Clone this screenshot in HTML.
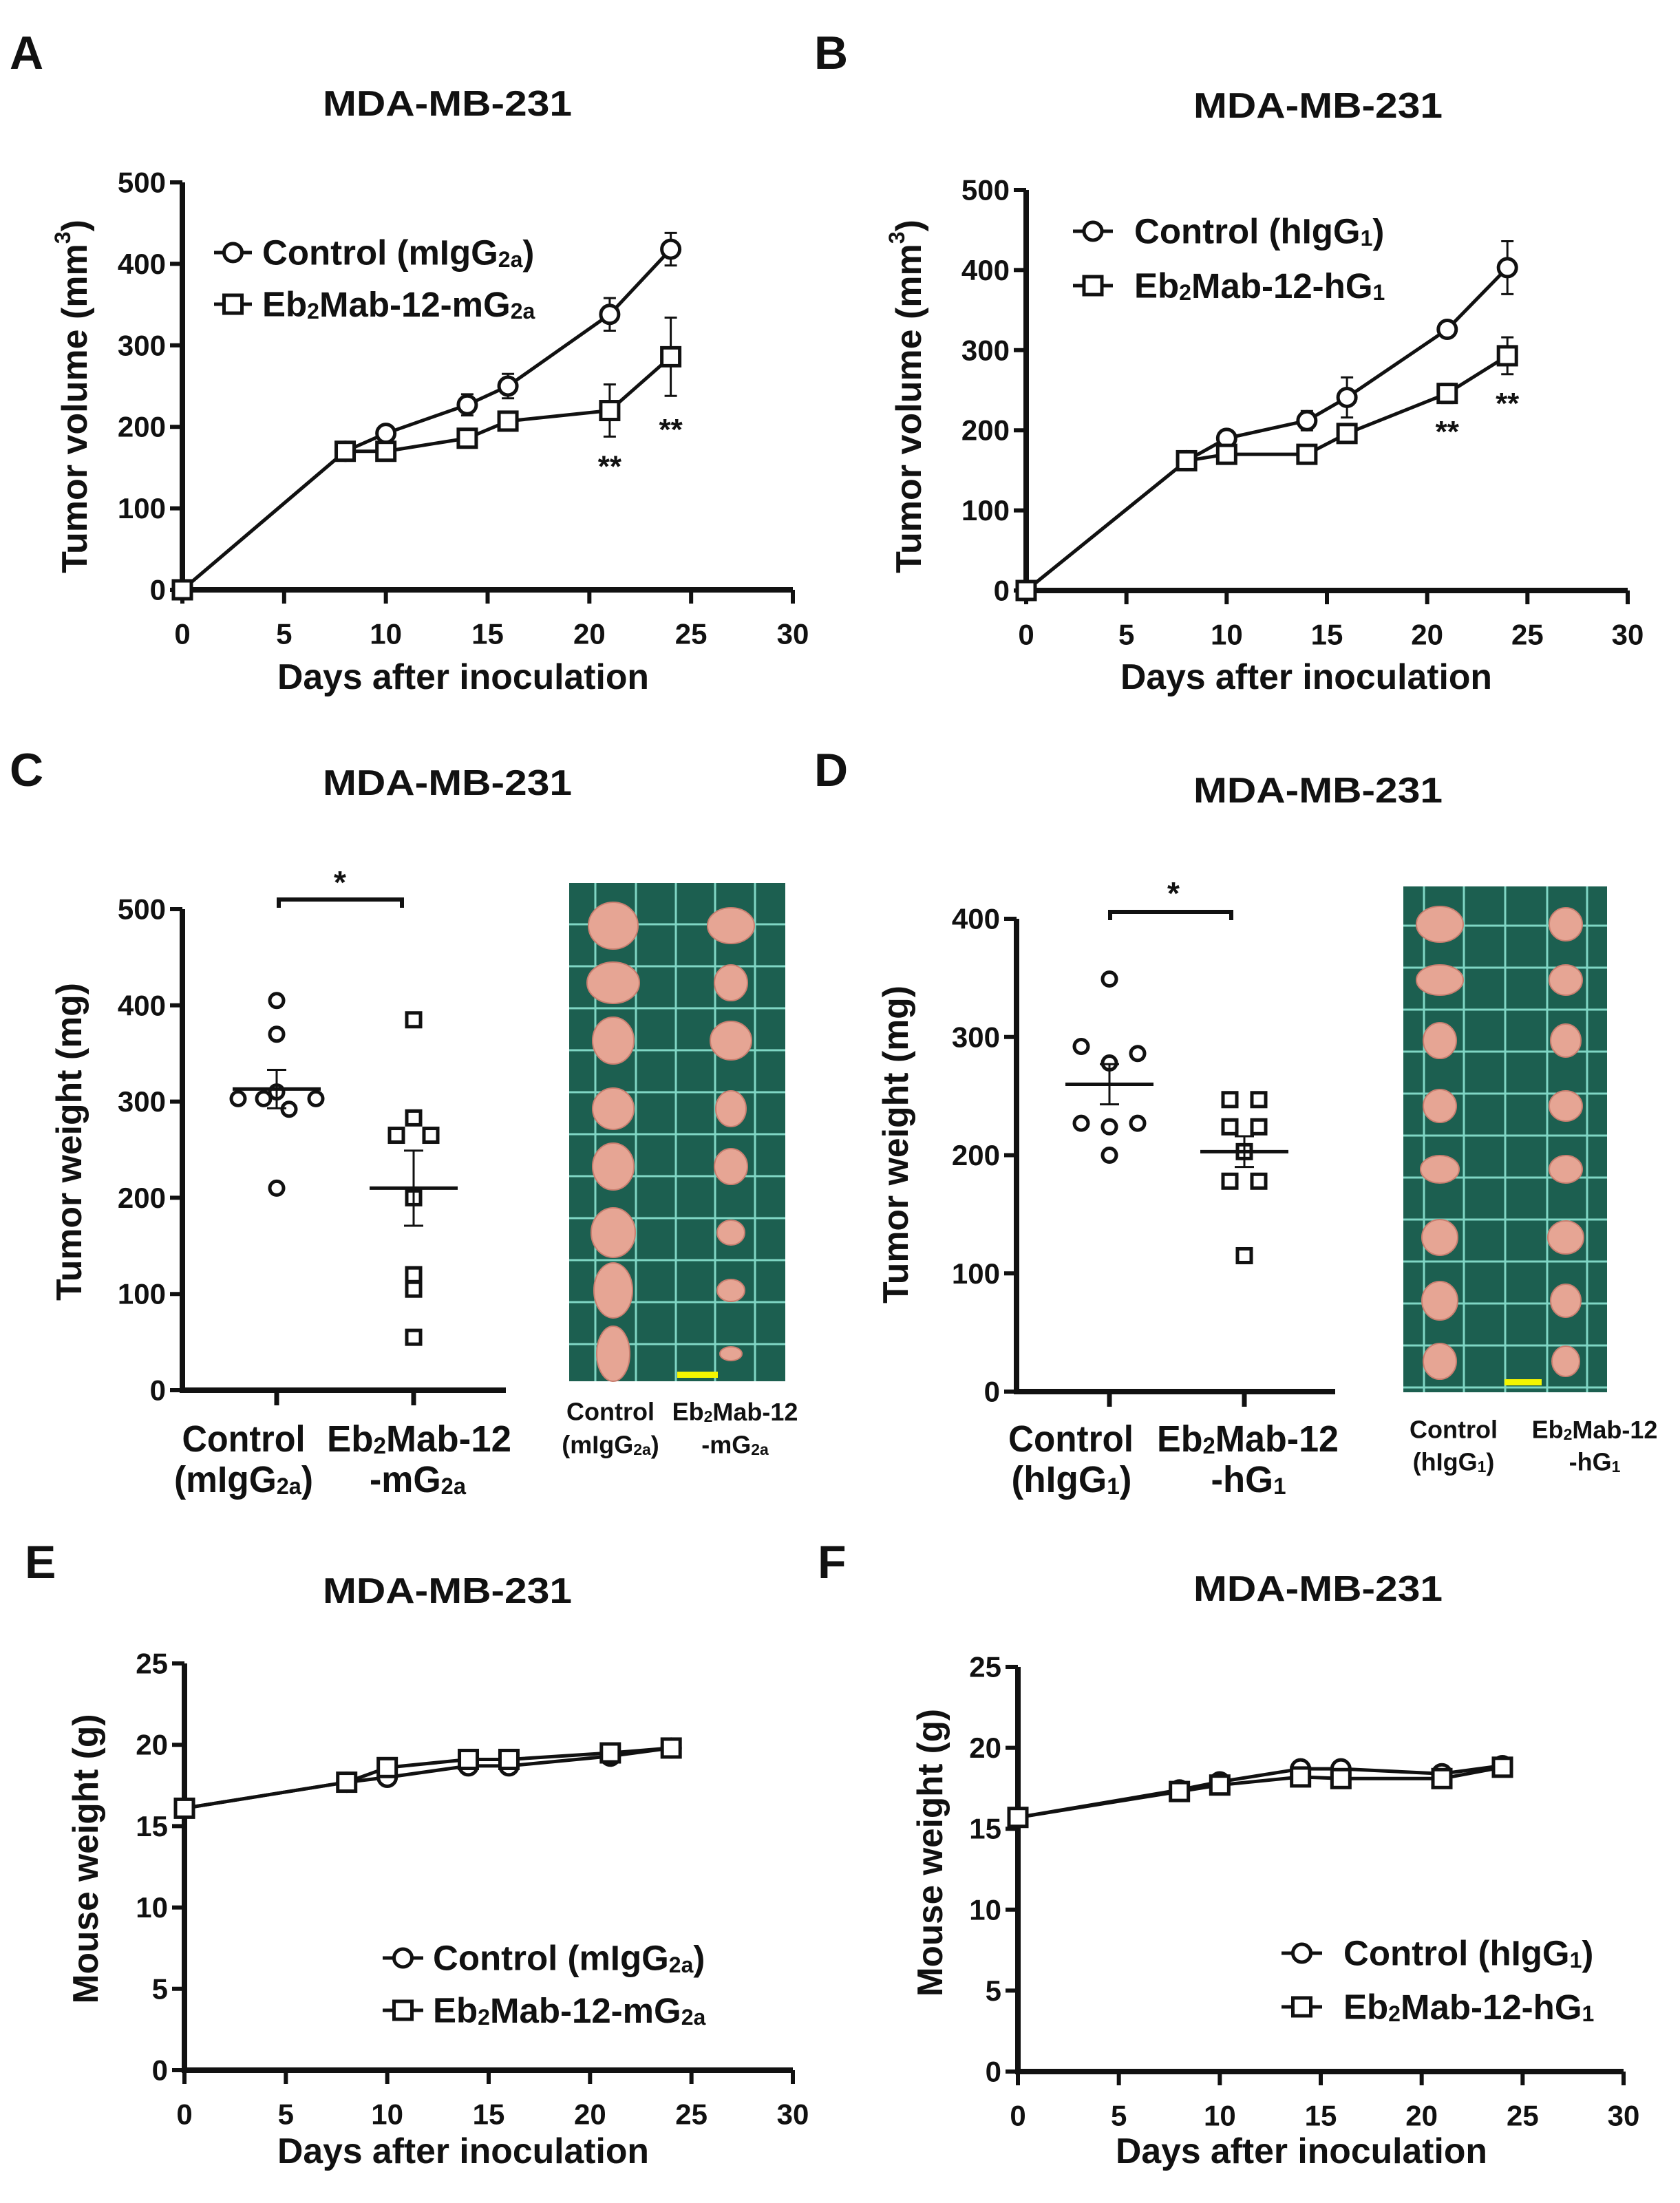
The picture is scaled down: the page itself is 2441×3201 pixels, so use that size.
<!DOCTYPE html>
<html><head><meta charset="utf-8">
<style>
html,body{margin:0;padding:0;background:#fff;}
svg{display:block;}
text{font-family:"Liberation Sans",Arial,sans-serif;font-weight:bold;fill:#111;}
</style></head>
<body>
<svg id="fig" width="2441" height="3201" viewBox="0 0 2441 3201" xmlns="http://www.w3.org/2000/svg">
<rect width="2441" height="3201" fill="#fff"/>

<!-- Panel letters -->
<text x="14" y="100" font-size="68">A</text>
<text x="1183" y="100" font-size="68">B</text>
<text x="14" y="1142" font-size="68">C</text>
<text x="1183" y="1142" font-size="68">D</text>
<text x="36" y="2293" font-size="68">E</text>
<text x="1188" y="2293" font-size="68">F</text>

<!-- Titles -->
<text x="650" y="151" font-size="52" text-anchor="middle" dominant-baseline="central" textLength="362" lengthAdjust="spacingAndGlyphs">MDA-MB-231</text>
<text x="1915" y="154" font-size="52" text-anchor="middle" dominant-baseline="central" textLength="362" lengthAdjust="spacingAndGlyphs">MDA-MB-231</text>
<text x="650" y="1138" font-size="52" text-anchor="middle" dominant-baseline="central" textLength="362" lengthAdjust="spacingAndGlyphs">MDA-MB-231</text>
<text x="1915" y="1149" font-size="52" text-anchor="middle" dominant-baseline="central" textLength="362" lengthAdjust="spacingAndGlyphs">MDA-MB-231</text>
<text x="650" y="2312" font-size="52" text-anchor="middle" dominant-baseline="central" textLength="362" lengthAdjust="spacingAndGlyphs">MDA-MB-231</text>
<text x="1915" y="2309" font-size="52" text-anchor="middle" dominant-baseline="central" textLength="362" lengthAdjust="spacingAndGlyphs">MDA-MB-231</text>

<!-- X axis titles -->
<text x="673" y="984" font-size="52" text-anchor="middle" dominant-baseline="central" textLength="540" lengthAdjust="spacingAndGlyphs">Days after inoculation</text>
<text x="1898" y="984" font-size="52" text-anchor="middle" dominant-baseline="central" textLength="540" lengthAdjust="spacingAndGlyphs">Days after inoculation</text>
<text x="673" y="3126" font-size="52" text-anchor="middle" dominant-baseline="central" textLength="540" lengthAdjust="spacingAndGlyphs">Days after inoculation</text>
<text x="1891" y="3126" font-size="52" text-anchor="middle" dominant-baseline="central" textLength="540" lengthAdjust="spacingAndGlyphs">Days after inoculation</text>

<!-- Y axis titles -->
<text transform="translate(109,576) rotate(-90)" font-size="52" text-anchor="middle" dominant-baseline="central">Tumor volume (mm<tspan font-size="32" dy="-18">3</tspan><tspan dy="18">)</tspan></text>
<text transform="translate(1321,576) rotate(-90)" font-size="52" text-anchor="middle" dominant-baseline="central">Tumor volume (mm<tspan font-size="32" dy="-18">3</tspan><tspan dy="18">)</tspan></text>
<text transform="translate(101,1659) rotate(-90)" font-size="52" text-anchor="middle" dominant-baseline="central" textLength="462" lengthAdjust="spacingAndGlyphs">Tumor weight (mg)</text>
<text transform="translate(1302,1663) rotate(-90)" font-size="52" text-anchor="middle" dominant-baseline="central" textLength="462" lengthAdjust="spacingAndGlyphs">Tumor weight (mg)</text>
<text transform="translate(125,2701) rotate(-90)" font-size="52" text-anchor="middle" dominant-baseline="central" textLength="421" lengthAdjust="spacingAndGlyphs">Mouse weight (g)</text>
<text transform="translate(1352,2692) rotate(-90)" font-size="52" text-anchor="middle" dominant-baseline="central" textLength="418" lengthAdjust="spacingAndGlyphs">Mouse weight (g)</text>

<!-- Legends text -->
<text x="381" y="367" font-size="51" dominant-baseline="central">Control (mIgG<tspan font-size="32" dy="10">2a</tspan><tspan dy="-10">)</tspan></text>
<text x="381" y="442" font-size="51" dominant-baseline="central">Eb<tspan font-size="32" dy="10">2</tspan><tspan dy="-10">Mab-12-mG</tspan><tspan font-size="32" dy="10">2a</tspan></text>
<text x="1648" y="336" font-size="51" dominant-baseline="central">Control (hIgG<tspan font-size="32" dy="10">1</tspan><tspan dy="-10">)</tspan></text>
<text x="1648" y="415" font-size="51" dominant-baseline="central">Eb<tspan font-size="32" dy="10">2</tspan><tspan dy="-10">Mab-12-hG</tspan><tspan font-size="32" dy="10">1</tspan></text>
<text x="629" y="2845" font-size="51" dominant-baseline="central">Control (mIgG<tspan font-size="32" dy="10">2a</tspan><tspan dy="-10">)</tspan></text>
<text x="629" y="2921" font-size="51" dominant-baseline="central">Eb<tspan font-size="32" dy="10">2</tspan><tspan dy="-10">Mab-12-mG</tspan><tspan font-size="32" dy="10">2a</tspan></text>
<text x="1952" y="2838" font-size="51" dominant-baseline="central">Control (hIgG<tspan font-size="32" dy="10">1</tspan><tspan dy="-10">)</tspan></text>
<text x="1952" y="2916" font-size="51" dominant-baseline="central">Eb<tspan font-size="32" dy="10">2</tspan><tspan dy="-10">Mab-12-hG</tspan><tspan font-size="32" dy="10">1</tspan></text>

<!-- Category labels C -->
<text x="354" y="2091" font-size="54" text-anchor="middle" dominant-baseline="central" textLength="179" lengthAdjust="spacingAndGlyphs">Control</text>
<text x="354" y="2150" font-size="54" text-anchor="middle" dominant-baseline="central" textLength="202" lengthAdjust="spacingAndGlyphs">(mIgG<tspan font-size="34" dy="10">2a</tspan><tspan dy="-10">)</tspan></text>
<text x="609" y="2091" font-size="54" text-anchor="middle" dominant-baseline="central" textLength="268" lengthAdjust="spacingAndGlyphs">Eb<tspan font-size="34" dy="10">2</tspan><tspan dy="-10">Mab-12</tspan></text>
<text x="607" y="2150" font-size="54" text-anchor="middle" dominant-baseline="central" textLength="140" lengthAdjust="spacingAndGlyphs">-mG<tspan font-size="34" dy="10">2a</tspan></text>
<!-- Category labels D -->
<text x="1556" y="2091" font-size="54" text-anchor="middle" dominant-baseline="central" textLength="182" lengthAdjust="spacingAndGlyphs">Control</text>
<text x="1557" y="2150" font-size="54" text-anchor="middle" dominant-baseline="central" textLength="175" lengthAdjust="spacingAndGlyphs">(hIgG<tspan font-size="34" dy="10">1</tspan><tspan dy="-10">)</tspan></text>
<text x="1813" y="2091" font-size="54" text-anchor="middle" dominant-baseline="central" textLength="264" lengthAdjust="spacingAndGlyphs">Eb<tspan font-size="34" dy="10">2</tspan><tspan dy="-10">Mab-12</tspan></text>
<text x="1814" y="2150" font-size="54" text-anchor="middle" dominant-baseline="central" textLength="109" lengthAdjust="spacingAndGlyphs">-hG<tspan font-size="34" dy="10">1</tspan></text>

<!-- Photo labels -->
<text x="887" y="2051" font-size="36" text-anchor="middle" dominant-baseline="central">Control</text>
<text x="887" y="2099" font-size="36" text-anchor="middle" dominant-baseline="central">(mIgG<tspan font-size="23" dy="7">2a</tspan><tspan dy="-7">)</tspan></text>
<text x="1068" y="2051" font-size="36" text-anchor="middle" dominant-baseline="central">Eb<tspan font-size="23" dy="7">2</tspan><tspan dy="-7">Mab-12</tspan></text>
<text x="1068" y="2099" font-size="36" text-anchor="middle" dominant-baseline="central">-mG<tspan font-size="23" dy="7">2a</tspan></text>
<text x="2112" y="2077" font-size="36" text-anchor="middle" dominant-baseline="central">Control</text>
<text x="2112" y="2124" font-size="36" text-anchor="middle" dominant-baseline="central">(hIgG<tspan font-size="23" dy="7">1</tspan><tspan dy="-7">)</tspan></text>
<text x="2317" y="2077" font-size="36" text-anchor="middle" dominant-baseline="central">Eb<tspan font-size="23" dy="7">2</tspan><tspan dy="-7">Mab-12</tspan></text>
<text x="2317" y="2124" font-size="36" text-anchor="middle" dominant-baseline="central">-hG<tspan font-size="23" dy="7">1</tspan></text>

<!-- Significance brackets -->
<path d="M405 1319 V1307 H584 V1319" fill="none" stroke="#111" stroke-width="6"/>
<text x="494" y="1282" font-size="46" text-anchor="middle" dominant-baseline="central">*</text>
<path d="M1613 1337 V1325 H1789 V1337" fill="none" stroke="#111" stroke-width="6"/>
<text x="1705" y="1298" font-size="46" text-anchor="middle" dominant-baseline="central">*</text>

<g id="photos"></g>
<g id="charts"></g>
</svg>

<script>
// ===== Data =====
const days = [0, 8, 10, 14, 16, 21, 24];
const xTicks = [0, 5, 10, 15, 20, 25, 30];
const volTicks = [0, 100, 200, 300, 400, 500];
const mouseTicks = [0, 5, 10, 15, 20, 25];
const weightTicksC = [0, 100, 200, 300, 400, 500];
const weightTicksD = [0, 100, 200, 300, 400];

const volCtrlA = [0, 170, 192, 227, 250, 338, 418];
const volCtrlAErr = [0, 0, 8, 13, 15, 20, 20];
const volEbA = [0, 170, 170, 186, 207, 220, 286];
const volEbAErr = [0, 0, 10, 6, 8, 32, 48];
const starDaysA = [21, 24];
const starValsA = [158, 203];

const volCtrlB = [0, 162, 190, 212, 241, 326, 403];
const volCtrlBErr = [0, 0, 5, 12, 25, 5, 33];
const volEbB = [0, 162, 170, 170, 196, 246, 293];
const volEbBErr = [0, 0, 5, 5, 5, 12, 23];
const starDaysB = [21, 24];
const starValsB = [205, 240];

const wCtrlC = [405, 370, 303, 303, 310, 292, 303, 210];
const wEbC = [385, 283, 265, 265, 200, 120, 105, 55];
const meanC = [313, 210];
const semC = [20, 39];

const wCtrlD = [349, 292, 278, 286, 227, 224, 227, 200];
const wEbD = [247, 247, 224, 224, 203, 178, 178, 115];
const meanD = [260, 203];
const semD = [17, 13];

const mwCtrlE = [16.1, 17.7, 18.0, 18.7, 18.7, 19.3, 19.8];
const mwEbE = [16.1, 17.7, 18.6, 19.1, 19.1, 19.5, 19.8];
const mwCtrlF = [15.7, 17.4, 17.9, 18.7, 18.7, 18.4, 18.9];
const mwEbF = [15.7, 17.3, 17.7, 18.2, 18.1, 18.1, 18.8];

// layout-only jitter (pixel offsets for dot plot spreading)
const jitterC1 = [0, 0, -56, -19, 0, 18, 57, 0];
const jitterC2 = [0, 0, -25, 25, 0, 0, 0, 0];
const jitterD1 = [0, -41, 0, 41, -41, 0, 41, 0];
const jitterD2 = [-21, 21, -21, 21, 0, -21, 21, 0];

const NS = 'http://www.w3.org/2000/svg';
const charts = document.getElementById('charts');
function mk(parent, tag, attrs) {
  const e = document.createElementNS(NS, tag);
  for (const k in attrs) e.setAttribute(k, attrs[k]);
  parent.appendChild(e);
  return e;
}
const LW = 5;

function axes(g, sx, sy, x0, x1, y0, y1, yTicks, xTicksArr, name) {
  for (const t of yTicks) {
    const tk = mk(g, 'line', {x1: x0 - 18, x2: x0, y1: sy(t), y2: sy(t), stroke: '#111', 'stroke-width': 6});
    
    
    const lb = mk(g, 'text', {x: x0 - 24, y: sy(t), 'font-size': 42, 'text-anchor': 'end', 'dominant-baseline': 'central'});
    lb.textContent = t;
    
    
  }
  if (xTicksArr) {
    for (const t of xTicksArr) {
      const tk = mk(g, 'line', {x1: sx(t), x2: sx(t), y1: y0, y2: y0 + 20, stroke: '#111', 'stroke-width': 6});
      
      
      const lb = mk(g, 'text', {x: sx(t), y: y0 + 64, 'font-size': 42, 'text-anchor': 'middle', 'dominant-baseline': 'central'});
      lb.textContent = t;
      
      
    }
  }
  const ya = mk(g, 'line', {x1: x0, x2: x0, y1: y1, y2: y0 + 4, stroke: '#111', 'stroke-width': 8});
  
  
  const xa = mk(g, 'line', {x1: x0 - 4, x2: x1, y1: y0, y2: y0, stroke: '#111', 'stroke-width': 8});
  
  
}

function marker(g, shape, x, y, name) {
  let m;
  if (shape === 'circle') {
    m = mk(g, 'circle', {cx: x, cy: y, r: 13, fill: '#fff', stroke: '#111', 'stroke-width': LW});
  } else {
    m = mk(g, 'rect', {x: x - 13, y: y - 13, width: 26, height: 26, fill: '#fff', stroke: '#111', 'stroke-width': LW});
  }
  
  
  return m;
}

function series(g, sx, sy, xs, ys, errs, shape, name) {
  const pts = xs.map((d, i) => sx(d) + ',' + sy(ys[i])).join(' ');
  const pl = mk(g, 'polyline', {points: pts, fill: 'none', stroke: '#111', 'stroke-width': LW, 'stroke-linejoin': 'round'});
  
  
  if (errs) {
    xs.forEach((d, i) => {
      if (!errs[i]) return;
      const x = sx(d), yt = sy(ys[i] + errs[i]), yb = sy(ys[i] - errs[i]);
      const eb = mk(g, 'path', {d: `M${x} ${yb} V${yt} M${x - 9} ${yt} H${x + 9} M${x - 9} ${yb} H${x + 9}`, fill: 'none', stroke: '#111', 'stroke-width': 3});
      
      
    });
  }
  xs.forEach((d, i) => marker(g, shape, sx(d), sy(ys[i]), name + '-point'));
}

function legendMarker(g, shape, x1, x2, y, name) {
  const l = mk(g, 'line', {x1: x1, x2: x2, y1: y, y2: y, stroke: '#111', 'stroke-width': LW});
  
  
  marker(g, shape, (x1 + x2) / 2, y, name + '-marker');
}

function stars(g, sx, sy, ds, vs, name) {
  ds.forEach((d, i) => {
    const t = mk(g, 'text', {x: sx(d), y: sy(vs[i]) + 8, 'font-size': 44, 'text-anchor': 'middle', 'dominant-baseline': 'central'});
    t.textContent = '**';
    
    
  });
}

function lineChart(cfg) {
  const g = mk(charts, 'g', {});
  
  
  const sx = d => cfg.x0 + (cfg.x1 - cfg.x0) * d / 30;
  const sy = v => cfg.y0 - (cfg.y0 - cfg.y1) * v / cfg.ymax;
  axes(g, sx, sy, cfg.x0, cfg.x1, cfg.y0, cfg.y1, cfg.yTicks, xTicks, cfg.name);
  series(g, sx, sy, days, cfg.ctrl, cfg.ctrlErr, 'circle', cfg.name + '-control');
  series(g, sx, sy, days, cfg.eb, cfg.ebErr, 'square', cfg.name + '-eb2mab');
  if (cfg.starD) stars(g, sx, sy, cfg.starD, cfg.starV, cfg.name + '-significance');
  legendMarker(g, 'circle', cfg.lx1, cfg.lx2, cfg.ly1, cfg.name + '-legend-control');
  legendMarker(g, 'square', cfg.lx1, cfg.lx2, cfg.ly2, cfg.name + '-legend-eb2mab');
}

lineChart({name: 'chart-a', x0: 265, x1: 1152, y0: 857, y1: 265, ymax: 500, yTicks: volTicks,
  ctrl: volCtrlA, ctrlErr: volCtrlAErr, eb: volEbA, ebErr: volEbAErr, starD: starDaysA, starV: starValsA,
  lx1: 311, lx2: 366, ly1: 367, ly2: 442});
lineChart({name: 'chart-b', x0: 1491, x1: 2365, y0: 858, y1: 276, ymax: 500, yTicks: volTicks,
  ctrl: volCtrlB, ctrlErr: volCtrlBErr, eb: volEbB, ebErr: volEbBErr, starD: starDaysB, starV: starValsB,
  lx1: 1559, lx2: 1617, ly1: 336, ly2: 415});
lineChart({name: 'chart-e', x0: 268, x1: 1152, y0: 3008, y1: 2417, ymax: 25, yTicks: mouseTicks,
  ctrl: mwCtrlE, ctrlErr: null, eb: mwEbE, ebErr: null,
  lx1: 556, lx2: 615, ly1: 2845, ly2: 2921});
lineChart({name: 'chart-f', x0: 1479, x1: 2359, y0: 3010, y1: 2422, ymax: 25, yTicks: mouseTicks,
  ctrl: mwCtrlF, ctrlErr: null, eb: mwEbF, ebErr: null,
  lx1: 1862, lx2: 1921, ly1: 2838, ly2: 2916});

function dotChart(cfg) {
  const g = mk(charts, 'g', {});
  
  
  const sy = v => cfg.y0 - (cfg.y0 - cfg.y1) * v / cfg.ymax;
  axes(g, null, sy, cfg.x0, cfg.xEnd, cfg.y0, cfg.y1, cfg.yTicks, null, cfg.name);
  cfg.cats.forEach((cx, ci) => {
    const tk = mk(g, 'line', {x1: cx, x2: cx, y1: cfg.y0, y2: cfg.y0 + 22, stroke: '#111', 'stroke-width': 7});
    
    
    const vals = ci === 0 ? cfg.ctrl : cfg.eb;
    const jit = ci === 0 ? cfg.j1 : cfg.j2;
    const shape = ci === 0 ? 'circle' : 'square';
    vals.forEach((v, i) => {
      let m;
      if (shape === 'circle') m = mk(g, 'circle', {cx: cx + jit[i], cy: sy(v), r: 10, fill: 'none', stroke: '#111', 'stroke-width': 5});
      else m = mk(g, 'rect', {x: cx + jit[i] - 10, y: sy(v) - 10, width: 20, height: 20, fill: 'none', stroke: '#111', 'stroke-width': 5});
      
      
    });
    const mn = cfg.mean[ci], se = cfg.sem[ci];
    const ml = mk(g, 'line', {x1: cx - 64, x2: cx + 64, y1: sy(mn), y2: sy(mn), stroke: '#111', 'stroke-width': 5});
    
    
    const eb = mk(g, 'path', {d: `M${cx} ${sy(mn - se)} V${sy(mn + se)} M${cx - 14} ${sy(mn + se)} H${cx + 14} M${cx - 14} ${sy(mn - se)} H${cx + 14}`, fill: 'none', stroke: '#111', 'stroke-width': 3});
    
    
  });
}
dotChart({name: 'chart-c', x0: 265, xEnd: 735, y0: 2020, y1: 1321, ymax: 500, yTicks: weightTicksC,
  cats: [402, 601], ctrl: wCtrlC, eb: wEbC, j1: jitterC1, j2: jitterC2, mean: meanC, sem: semC});
dotChart({name: 'chart-d', x0: 1477, xEnd: 1940, y0: 2022, y1: 1335, ymax: 400, yTicks: weightTicksD,
  cats: [1612, 1808], ctrl: wCtrlD, eb: wEbD, j1: jitterD1, j2: jitterD2, mean: meanD, sem: semD});

// ===== Tumor photos =====
const photos = document.getElementById('photos');
function photo(p) {
  const g = mk(photos, 'g', {});
  
  
  const bg = mk(g, 'rect', {x: p.x, y: p.y, width: p.w, height: p.h, fill: '#1c5f50'});
  
  
  for (const gx of p.cols) {
    const l = mk(g, 'line', {x1: gx, x2: gx, y1: p.y, y2: p.y + p.h, stroke: '#7fd6c4', 'stroke-width': 3});
    
    
  }
  for (let gy = p.rowStart; gy < p.y + p.h; gy += p.rowStep) {
    const l = mk(g, 'line', {x1: p.x, x2: p.x + p.w, y1: gy, y2: gy, stroke: '#7fd6c4', 'stroke-width': 3});
    
    
  }
  p.rows.forEach((ry, i) => {
    const a = mk(g, 'ellipse', {cx: p.lx, cy: ry, rx: p.lw[i], ry: p.lh[i], fill: '#e6a594', stroke: '#c97f70', 'stroke-width': 2});
    
    
    const b = mk(g, 'ellipse', {cx: p.rx, cy: ry, rx: p.rw[i], ry: p.rh[i], fill: '#e6a594', stroke: '#c97f70', 'stroke-width': 2});
    
    
  });
  const sb = mk(g, 'rect', {x: p.bar[0], y: p.bar[1], width: p.bar[2], height: 9, fill: '#f5f500'});
  
  
}
photo({name: 'photo-c', x: 827, y: 1283, w: 314, h: 724, cols: [865, 924, 982, 1039, 1097], rowStart: 1343, rowStep: 61,
  rows: [1345, 1428, 1512, 1611, 1695, 1791, 1875, 1967], lx: 891, rx: 1062,
  lw: [36, 38, 30, 30, 30, 32, 28, 24], lh: [34, 30, 34, 30, 34, 36, 40, 40],
  rw: [34, 24, 30, 22, 24, 20, 20, 16], rh: [26, 26, 28, 26, 26, 18, 16, 10], bar: [984, 1993, 59]});
photo({name: 'photo-d', x: 2039, y: 1288, w: 296, h: 735, cols: [2069, 2127, 2187, 2248, 2306], rowStart: 1345, rowStep: 61,
  rows: [1343, 1424, 1512, 1607, 1699, 1798, 1890, 1978], lx: 2092, rx: 2275,
  lw: [34, 34, 24, 24, 28, 26, 26, 24], lh: [26, 22, 26, 24, 20, 26, 28, 26],
  rw: [24, 24, 22, 24, 24, 26, 22, 20], rh: [24, 22, 24, 22, 20, 24, 24, 22], bar: [2186, 2004, 54]});
</script>
</body></html>
